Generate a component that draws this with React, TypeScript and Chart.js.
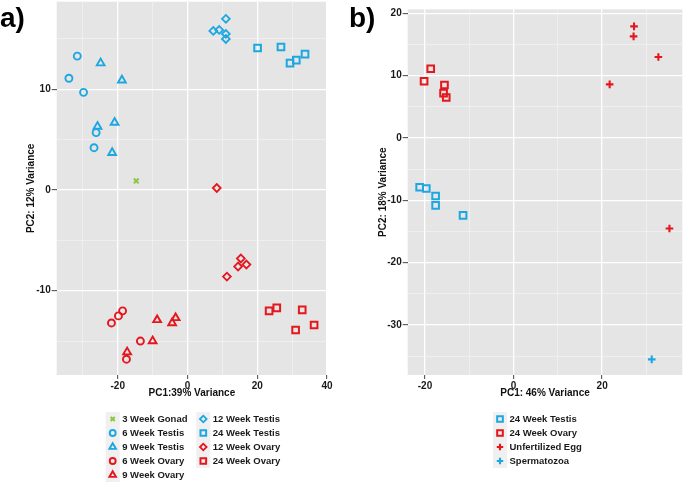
import React, { useEffect, useRef } from 'react';
import { Chart, registerables } from 'chart.js';
import { drawPoint } from 'chart.js/helpers';

Chart.register(...registerables);

const BLUE = '#1DA7E2';
const RED = '#E5161D';
const GREEN = '#8DC63F';
const FONT = "'Liberation Sans', Arial, sans-serif";

// ---------- Panel a data (PC1, PC2) ----------
const gonad3wk = [[-14.7, 0.9]];
const testis6wk = [[-31.6, 13.3], [-34.0, 11.1], [-29.8, 9.7], [-26.2, 5.7], [-26.8, 4.2]];
const testis9wk = [[-24.9, 12.6], [-18.8, 10.9], [-25.8, 6.3], [-20.9, 6.7], [-21.6, 3.7]];
const ovary6wk = [[-18.6, -12.0], [-19.8, -12.5], [-21.8, -13.2], [-13.5, -15.0], [-17.5, -16.8]];
const ovary9wk = [[-8.7, -12.9], [-3.4, -12.7], [-4.4, -13.2], [-10.0, -15.0], [-17.3, -16.1]];
const testis12wk = [[7.4, 15.8], [9.1, 15.9], [11.0, 17.0], [11.0, 15.5], [11.0, 15.0]];
const testis24wk = [[20.1, 14.1], [26.8, 14.2], [29.4, 12.6], [31.2, 12.9], [33.7, 13.5]];
const ovary12wk = [[8.4, 0.2], [15.3, -6.8], [14.5, -7.6], [16.9, -7.4], [11.3, -8.6]];
const ovary24wk = [[23.4, -12.0], [25.6, -11.7], [32.9, -11.9], [31.0, -13.9], [36.3, -13.4]];

// ---------- Panel b data ----------
const bTestis24wk = [[-21.2, -7.9], [-19.7, -8.1], [-17.6, -9.3], [-17.6, -10.8], [-11.4, -12.4]];
const bOvary24wk = [[-18.7, 11.1], [-20.2, 9.1], [-15.6, 8.5], [-15.8, 7.2], [-15.2, 6.5]];
const unfertilizedEgg = [[21.7, 8.6], [27.2, 17.9], [27.1, 16.3], [32.7, 13.0], [35.2, -14.5]];
const spermatozoa = [[31.2, -35.5]];

// axis ranges
const aXRange = [-37.5, 40];
const aYRange = [-18.37, 18.7];
const bXRange = [-23.9, 38.1];
const bYRange = [-38.0, 20.64];

const STYLE: Record<string, { r: number; bw: number }> = {
  circle: { r: 3.5, bw: 1.9 },
  triangle: { r: 4.5, bw: 1.9 },
  rectRot: { r: 3.9, bw: 1.8 },
  rect: { r: 4.7, bw: 2.0 },
  crossRot: { r: 3.4, bw: 2.0 },
  cross: { r: 3.8, bw: 2.1 },
};

type Series = { label: string; data: number[][]; style: string; color: string };

const seriesA: Series[] = [
  { label: '3 Week Gonad', data: gonad3wk, style: 'crossRot', color: GREEN },
  { label: '6 Week Testis', data: testis6wk, style: 'circle', color: BLUE },
  { label: '9 Week Testis', data: testis9wk, style: 'triangle', color: BLUE },
  { label: '6 Week Ovary', data: ovary6wk, style: 'circle', color: RED },
  { label: '9 Week Ovary', data: ovary9wk, style: 'triangle', color: RED },
  { label: '12 Week Testis', data: testis12wk, style: 'rectRot', color: BLUE },
  { label: '24 Week Testis', data: testis24wk, style: 'rect', color: BLUE },
  { label: '12 Week Ovary', data: ovary12wk, style: 'rectRot', color: RED },
  { label: '24 Week Ovary', data: ovary24wk, style: 'rect', color: RED },
];

const seriesB: Series[] = [
  { label: '24 Week Testis', data: bTestis24wk, style: 'rect', color: BLUE },
  { label: '24 Week Ovary', data: bOvary24wk, style: 'rect', color: RED },
  { label: 'Unfertilized Egg', data: unfertilizedEgg, style: 'cross', color: RED },
  { label: 'Spermatozoa', data: spermatozoa, style: 'cross', color: BLUE },
];

type Panel = {
  letter: string;
  series: Series[];
  xRange: number[];
  yRange: number[];
  xStep: number;
  yStep: number;
  xMajor: number;
  yMajor: number;
  xTitle: string;
  yTitle: string;
  width: number;
  left: number;
  areaLeft: number;
  areaRight: number;
  areaTop: number;
  yTitlePad: number;
  legendCols: number[];
  legendRows: number;
  letterX: number;
};

const panelA: Panel = {
  letter: 'a)',
  series: seriesA,
  xRange: aXRange,
  yRange: aYRange,
  xStep: 10,
  yStep: 5,
  xMajor: 20,
  yMajor: 10,
  xTitle: 'PC1:39% Variance',
  yTitle: 'PC2: 12% Variance',
  width: 345,
  left: 0,
  areaLeft: 56.7,
  areaRight: 327,
  areaTop: 1.7,
  yTitlePad: 25,
  legendCols: [112.7, 203.3],
  legendRows: 5,
  letterX: 0,
};

const panelB: Panel = {
  letter: 'b)',
  series: seriesB,
  xRange: bXRange,
  yRange: bYRange,
  xStep: 10,
  yStep: 5,
  xMajor: 20,
  yMajor: 10,
  xTitle: 'PC1: 46% Variance',
  yTitle: 'PC2: 18% Variance',
  width: 340,
  left: 345,
  areaLeft: 62.7,
  areaRight: 337.3,
  areaTop: 9.3,
  yTitlePad: 32,
  legendCols: [155],
  legendRows: 4,
  letterX: 4,
};

const HEIGHT = 484;
const AREA_BOTTOM = 375;
const XAXIS_H = 25;

function isMajor(v: number, m: number) {
  return Math.abs(v / m - Math.round(v / m)) < 1e-6;
}

function buildConfig(p: Panel): any {
  const bgPlugin = {
    id: 'panelBg',
    beforeDraw(chart: any) {
      const { ctx, chartArea: a } = chart;
      ctx.save();
      ctx.fillStyle = '#E5E5E5';
      ctx.fillRect(a.left, a.top, a.right - a.left, a.bottom - a.top);
      ctx.restore();
    },
  };
  const decoPlugin = {
    id: 'panelDeco',
    afterDraw(chart: any) {
      const { ctx } = chart;
      ctx.save();
      ctx.fillStyle = '#000';
      ctx.font = `bold 28px ${FONT}`;
      ctx.textBaseline = 'alphabetic';
      ctx.textAlign = 'left';
      ctx.fillText(p.letter, p.letterX, 27);
      // legend
      const rowH = 14;
      const y0 = 419;
      p.series.forEach((s, i) => {
        const col = Math.floor(i / p.legendRows);
        const row = i % p.legendRows;
        const cx = p.legendCols[col];
        const cy = y0 + row * rowH;
        ctx.fillStyle = '#F0F0F0';
        ctx.fillRect(cx - 7, cy - 7, 14, 14);
        const st = STYLE[s.style];
        ctx.strokeStyle = s.color;
        ctx.fillStyle = 'rgba(0,0,0,0)';
        ctx.lineWidth = st.bw;
        drawPoint(ctx, { pointStyle: s.style, radius: st.r * 0.85, borderWidth: st.bw, rotation: 0 } as any, cx, cy);
        ctx.fillStyle = '#1a1a1a';
        ctx.font = `bold 9.5px ${FONT}`;
        ctx.textBaseline = 'middle';
        ctx.fillText(s.label, cx + 9.5, cy + 0.5);
      });
      ctx.restore();
    },
  };

  const tickFont = { family: FONT, size: 10, weight: 'bold' as const };
  const titleFont = { family: FONT, size: 10, weight: 'bold' as const };

  return {
    type: 'scatter',
    data: {
      datasets: p.series.map((s) => ({
        label: s.label,
        data: s.data.map(([x, y]) => ({ x, y })),
        pointStyle: s.style,
        pointRadius: STYLE[s.style].r,
        pointHoverRadius: STYLE[s.style].r,
        pointBorderWidth: STYLE[s.style].bw,
        pointHoverBorderWidth: STYLE[s.style].bw,
        borderColor: s.color,
        backgroundColor: 'rgba(0,0,0,0)',
        showLine: false,
      })),
    },
    options: {
      responsive: false,
      devicePixelRatio: 1,
      animation: false,
      events: [],
      layout: {
        autoPadding: false,
        padding: {
          left: 0,
          top: p.areaTop,
          right: p.width - p.areaRight,
          bottom: HEIGHT - AREA_BOTTOM - XAXIS_H,
        },
      },
      plugins: {
        legend: { display: false },
        tooltip: { enabled: false },
      },
      scales: {
        x: {
          type: 'linear',
          min: p.xRange[0],
          max: p.xRange[1],
          border: { display: false },
          grid: {
            color: (c: any) => (isMajor(c.tick.value, p.xMajor) ? '#FFFFFF' : '#F3F3F3'),
            lineWidth: (c: any) => (isMajor(c.tick.value, p.xMajor) ? 1.3 : 0.7),
            tickColor: (c: any) => (isMajor(c.tick.value, p.xMajor) ? '#444' : 'rgba(0,0,0,0)'),
            tickLength: 4,
            tickWidth: 1,
          },
          ticks: {
            stepSize: p.xStep,
            includeBounds: false,
            autoSkip: false,
            maxRotation: 0,
            padding: 1,
            color: '#1a1a1a',
            font: tickFont,
            callback: (v: number) => (isMajor(v, p.xMajor) ? String(v) : ''),
          },
          title: {
            display: true,
            text: p.xTitle,
            color: '#111',
            font: titleFont,
            padding: { top: 0, bottom: 1 },
          },
          afterFit(scale: any) {
            scale.height = XAXIS_H;
            scale.paddingLeft = 0;
            scale.paddingRight = 0;
          },
        },
        y: {
          type: 'linear',
          min: p.yRange[0],
          max: p.yRange[1],
          border: { display: false },
          grid: {
            color: (c: any) => (isMajor(c.tick.value, p.yMajor) ? '#FFFFFF' : '#F3F3F3'),
            lineWidth: (c: any) => (isMajor(c.tick.value, p.yMajor) ? 1.3 : 0.7),
            tickColor: (c: any) => (isMajor(c.tick.value, p.yMajor) ? '#444' : 'rgba(0,0,0,0)'),
            tickLength: 5,
            tickWidth: 1,
          },
          ticks: {
            stepSize: p.yStep,
            includeBounds: false,
            autoSkip: false,
            padding: 1,
            color: '#1a1a1a',
            font: tickFont,
            callback: (v: number) => (isMajor(v, p.yMajor) ? String(v) : ''),
          },
          title: {
            display: true,
            text: p.yTitle,
            color: '#111',
            font: titleFont,
            padding: { top: p.yTitlePad, bottom: 0 },
          },
          afterFit(scale: any) {
            scale.width = p.areaLeft;
            scale.paddingTop = 0;
            scale.paddingBottom = 0;
          },
        },
      },
    },
    plugins: [bgPlugin, decoPlugin],
  };
}

export default function App() {
  const refA = useRef<HTMLCanvasElement>(null);
  const refB = useRef<HTMLCanvasElement>(null);

  useEffect(() => {
    const a = new Chart(refA.current as HTMLCanvasElement, buildConfig(panelA));
    const b = new Chart(refB.current as HTMLCanvasElement, buildConfig(panelB));
    return () => {
      a.destroy();
      b.destroy();
    };
  }, []);

  return (
    <div style={{ position: 'fixed', left: 0, top: 0, width: 685, height: HEIGHT, background: '#fff' }}>
      <canvas
        ref={refA}
        width={panelA.width}
        height={HEIGHT}
        style={{ position: 'absolute', left: panelA.left, top: 0, width: panelA.width, height: HEIGHT }}
      />
      <canvas
        ref={refB}
        width={panelB.width}
        height={HEIGHT}
        style={{ position: 'absolute', left: panelB.left, top: 0, width: panelB.width, height: HEIGHT }}
      />
    </div>
  );
}
